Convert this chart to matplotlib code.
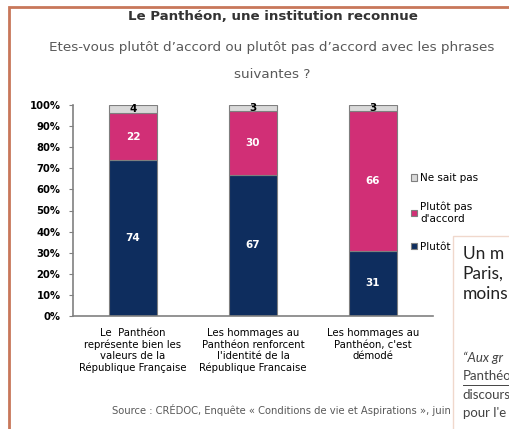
import numpy as np
import matplotlib.pyplot as plt
from matplotlib.patches import Rectangle

# data
categories = ["Le  Panthéon\nreprésente bien les\nvaleurs de la\nRépublique Française",
              "Les hommages au\nPanthéon renforcent\nl'identité de la\nRépublique Francaise",
              "Les hommages au\nPanthéon, c'est\ndémodé"]
plutot_accord = [74, 67, 31]
plutot_pas = [22, 30, 66]
ne_sait_pas = [4, 3, 3]

navy = "#0e2d5e"
pink = "#d12f76"
grey = "#d9d9d9"
W, H = 510, 429

fig = plt.figure(figsize=(W / 100, H / 100), dpi=100)
fig.patch.set_facecolor("white")

def fx(x):
    return x / W

def fy(y):
    return 1 - y / H

# orange frame of the page
fig.add_artist(Rectangle((fx(9.5), fy(440)), 1.2, fy(6.5) - fy(440),
                         transform=fig.transFigure, fill=False,
                         edgecolor="#c8775a", lw=2))

fig.text(fx(273), fy(16), "Le Panthéon, une institution reconnue",
         ha="center", va="center", fontsize=9.6, fontweight="bold", color="#333333")
fig.text(fx(272), fy(48), "Etes-vous plutôt d\u2019accord ou plutôt pas d\u2019accord avec les phrases",
         ha="center", va="center", fontsize=9.7, color="#595959")
fig.text(fx(272), fy(75), "suivantes ?", ha="center", va="center",
         fontsize=9.7, color="#595959")

ax = fig.add_axes([fx(73), fy(316), fx(433) - fx(73), fy(105) - fy(316)])
x = np.arange(len(categories))
w = 0.4
b1 = ax.bar(x, plutot_accord, w, color=navy, edgecolor="#7f7f7f", lw=0.8,
            label="Plutôt d'accord")
b2 = ax.bar(x, plutot_pas, w, bottom=plutot_accord, color=pink,
            edgecolor="#7f7f7f", lw=0.8, label="Plutôt pas\nd'accord")
bot3 = np.array(plutot_accord) + np.array(plutot_pas)
b3 = ax.bar(x, ne_sait_pas, w, bottom=bot3, color=grey, edgecolor="#7f7f7f",
            lw=0.8, label="Ne sait pas")

for i in range(len(categories)):
    ax.text(x[i], plutot_accord[i] / 2, str(plutot_accord[i]), ha="center",
            va="center", color="white", fontsize=7.5, fontweight="bold")
    ax.text(x[i], plutot_accord[i] + plutot_pas[i] / 2, str(plutot_pas[i]),
            ha="center", va="center", color="white", fontsize=7.5, fontweight="bold")
    ax.text(x[i], bot3[i] + ne_sait_pas[i] / 2 + 0.3, str(ne_sait_pas[i]),
            ha="center", va="center", color="black", fontsize=7.5, fontweight="bold")

ax.set_xlim(-0.5, 2.5)
ax.set_ylim(0, 100)
ax.set_yticks(range(0, 101, 10))
ax.set_yticklabels([f"{v}%" for v in range(0, 101, 10)], fontsize=7.2,
                   fontweight="bold")
ax.set_xticks(x)
ax.set_xticklabels(categories, fontsize=7.3, linespacing=1.15, va="top")
ax.tick_params(axis="y", length=3, color="#808080", pad=6)
ax.tick_params(axis="x", length=0, pad=9)
for s in ["top", "right"]:
    ax.spines[s].set_visible(False)
for s in ["left", "bottom"]:
    ax.spines[s].set_color("#808080")
    ax.spines[s].set_linewidth(1.2)

handles = [b3, b2, b1]
leg = fig.legend(handles, [h.get_label() for h in handles], loc="upper left",
                 bbox_to_anchor=(fx(406), fy(168)), frameon=False, fontsize=7.5,
                 handlelength=0.6, handleheight=0.6, handletextpad=0.25,
                 labelspacing=1.75, borderpad=0)

fig.text(fx(112), fy(410), "Source : CRÉDOC, Enquête « Conditions de vie et Aspirations », juin 2015",
         ha="left", va="center", fontsize=7.2, color="#595959")

# overlapping box from the web page, drawn above the chart
ov = fig.add_axes([fx(453), 0, 1 - fx(453), fy(235)])
ov.set_zorder(10)
ov.set_xlim(0, 1)
ov.set_ylim(0, 1)
ov.axis("off")
ov.add_patch(Rectangle((0, -0.01), 1.2, 1.005, transform=ov.transAxes,
                       facecolor="white", edgecolor="#f0d8cc", lw=1,
                       clip_on=False))

def oy(y):
    return 1 - (y - 235) / 194

for yy, t in [(254, "Un m"), (274, "Paris,"), (294, "moins")]:
    ov.text(0.17, oy(yy), t, ha="left", va="center", fontsize=12.5,
            color="#222222", family="Lato", clip_on=True)
ov.text(0.17, oy(358), "\u201cAux gr", ha="left", va="center", fontsize=9.5,
        color="#444444", style="italic", family="Lato", clip_on=True)
ov.text(0.17, oy(376), "Panthéo", ha="left", va="center", fontsize=9.5,
        color="#444444", family="Lato", clip_on=True)
ov.plot([0.17, 1.2], [oy(385)] * 2, color="#444444", lw=0.7, clip_on=False)
ov.text(0.17, oy(395), "discours", ha="left", va="center", fontsize=9.5,
        color="#444444", family="Lato", clip_on=True)
ov.text(0.17, oy(413), "pour l'e", ha="left", va="center", fontsize=9.5,
        color="#444444", family="Lato", clip_on=True)

fig.savefig("out.png", dpi=100)
